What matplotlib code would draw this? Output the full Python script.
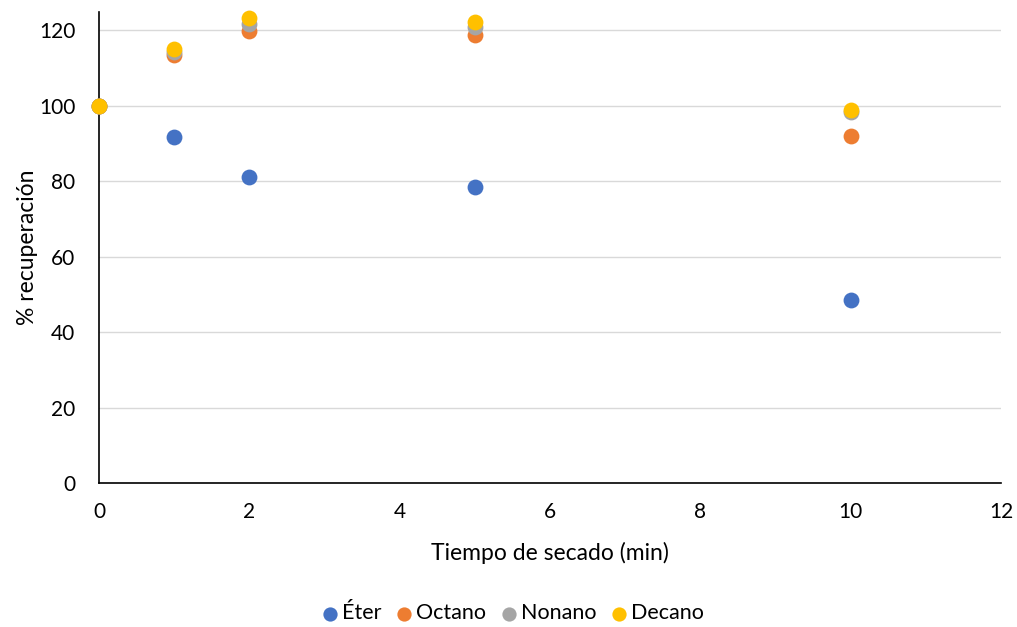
import matplotlib.pyplot as plt

plt.rcParams['font.family'] = ['Lato', 'DejaVu Sans']

# tiempo de secado (min)
tiempo = [0, 1, 2, 5, 10]

# % recuperacion por solvente
eter = [100, 91.6, 81.2, 78.4, 48.5]
octano = [100, 113.4, 119.7, 118.8, 92.0]
nonano = [100, 114.3, 121.7, 120.9, 98.2]
decano = [100, 115.0, 123.1, 122.1, 98.8]

series = [("Éter", eter, "#4472C4"),
          ("Octano", octano, "#ED7D31"),
          ("Nonano", nonano, "#A5A5A5"),
          ("Decano", decano, "#FFC000")]

fig = plt.figure(figsize=(10.17, 6.27), dpi=100)
ax = fig.add_axes([99 / 1017, 1 - 483 / 627, (1001 - 99) / 1017, (483 - 12) / 627])

for name, vals, col in series:
    ax.scatter(tiempo, vals, s=130, color=col, label=name, zorder=3,
               linewidths=0, clip_on=False)

ax.set_xlim(0, 12)
ax.set_ylim(0, 124.8)
ax.set_xticks(range(0, 13, 2))
ax.set_yticks(range(0, 121, 20))
ax.grid(axis='y', color='#D9D9D9', linewidth=1)
ax.set_axisbelow(True)
ax.tick_params(axis='y', length=0, labelsize=15, pad=17, colors='black')
ax.tick_params(axis='x', length=0, labelsize=15, pad=14, colors='black')
for s in ['top', 'right']:
    ax.spines[s].set_visible(False)
for s in ['left', 'bottom']:
    ax.spines[s].set_color('black')
    ax.spines[s].set_linewidth(1.2)

ax.set_xlabel("Tiempo de secado (min)", fontsize=16.5, labelpad=14)
ax.set_ylabel("% recuperación", fontsize=16.5, labelpad=1)

fig.legend(loc='lower center', bbox_to_anchor=(0.503, -0.025), ncol=4, frameon=False,
           fontsize=15.5, handlelength=1.0, handletextpad=0.05, columnspacing=0.55,
           markerscale=0.9)

fig.savefig("out.png", dpi=100)
